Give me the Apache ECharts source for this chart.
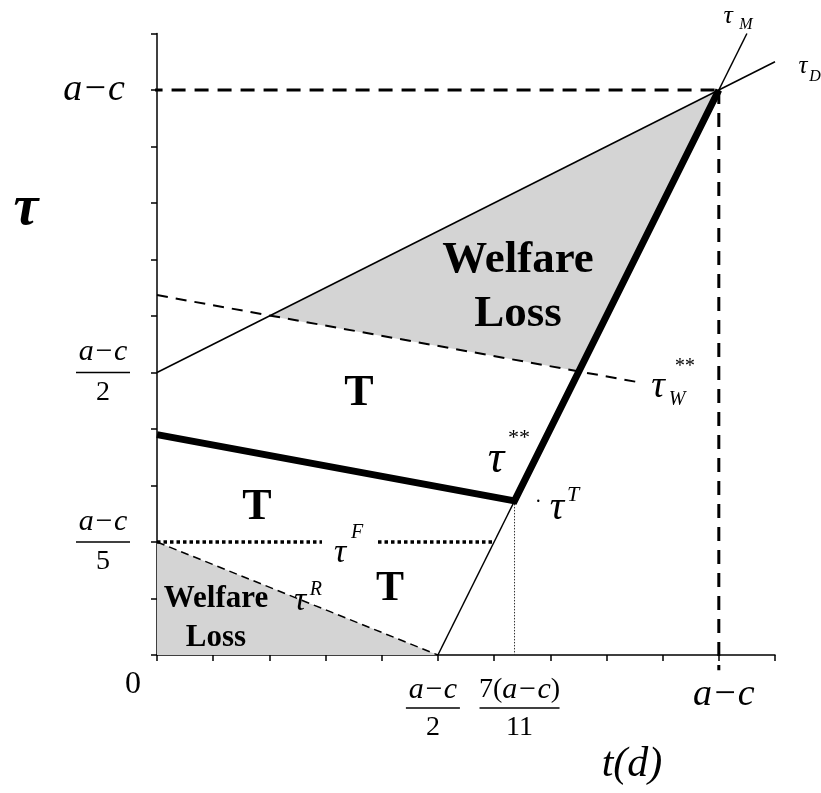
<!DOCTYPE html>
<html>
<head>
<meta charset="utf-8">
<script src="https://cdn.jsdelivr.net/npm/echarts@6/dist/echarts.min.js"></script>
<style>
  html, body { margin: 0; padding: 0; background: #fff; }
  #chart { width: 821px; height: 793px; }
</style>
</head>
<body>
<div id="chart"></div>
<script>
// Tax schedules in the (t(d), tau) plane, both axes measured in units of (a - c).
const axisMax = 1.1;
const tauD = [[0, 0.5], [1.1, 1.05]];
const tauM = [[0.5, 0], [1.05, 1.1]];
const tauW = [[0, 0.637], [0.856, 0.483]];
const tauStarStar = [[0, 0.39], [7 / 11, 3 / 11], [1, 1]];
const tauF = [[0, 0.2], [0.6, 0.2]];
const tauR = [[0, 0.2], [0.5, 0]];
const tauTDrop = [[7 / 11, 3 / 11], [7 / 11, 0]];
const guideH = [[-0.015, 1], [1, 1]];
const guideV = [[1, 1], [1, -0.027]];
const lossUpper = [[0.2015, 0.6], [1, 1], [0.751, 0.502]];
const lossLower = [[0, 0], [0, 0.2], [0.5, 0]];

// Tick labels (values on the axes)
const yTickLabels = [
  { value: 1, text: 'a−c' },
  { value: 0.5, num: 'a−c', den: '2' },
  { value: 0.2, num: 'a−c', den: '5' }
];
const xTickLabels = [
  { value: 0, text: '0' },
  { value: 0.5, num: 'a−c', den: '2' },
  { value: 7 / 11, num: '7(a−c)', den: '11' },
  { value: 1, text: 'a−c' }
];

const SERIF = '"Liberation Serif", "DejaVu Serif", serif';
const chart = echarts.init(document.getElementById('chart'), null, { renderer: 'canvas' });

function seg(name, data, lineStyle, z) {
  return {
    type: 'line', name: name, data: data, symbol: 'none', showSymbol: false,
    clip: false, silent: true, z: z || 3,
    lineStyle: Object.assign({ color: '#000' }, lineStyle)
  };
}
function poly(name, pts, color) {
  return {
    type: 'custom', name: name, data: [[0, 0]], clip: false, silent: true, z: 1,
    renderItem: function (params, api) {
      return {
        type: 'polygon',
        shape: { points: pts.map(function (p) { return api.coord(p); }) },
        style: { fill: color }
      };
    }
  };
}

const axisCommon = {
  type: 'value', min: 0, max: axisMax, interval: 0.1,
  axisLine: { onZero: false, lineStyle: { color: '#000', width: 1.5 } },
  axisTick: { length: 6, lineStyle: { color: '#000', width: 1.5 } },
  axisLabel: { show: false },
  splitLine: { show: false }
};

chart.setOption({
  animation: false,
  backgroundColor: '#fff',
  grid: { left: 157, top: 33.5, width: 618, height: 621.5 },
  xAxis: axisCommon,
  yAxis: axisCommon,
  series: [
    poly('lossUpper', lossUpper, '#d4d4d4'),
    poly('lossLower', lossLower, '#d4d4d4'),
    seg('guideH', guideH, { width: 3, type: [14, 9] }),
    seg('guideV', guideV, { width: 3, type: [14, 9] }),
    seg('tauD', tauD, { width: 1.5 }),
    seg('tauM', tauM, { width: 1.5 }),
    seg('tauW', tauW, { width: 2, type: [11, 8] }),
    seg('tauR', tauR, { width: 1.5, type: [8, 5] }),
    seg('tauF', tauF, { width: 3.5, type: [3.5, 3] }),
    seg('tauTDrop', tauTDrop, { width: 1, type: [1.5, 1.5], color: '#333' }),
    seg('tauStarStar', tauStarStar, { width: 7, join: 'miter' }, 5)
  ]
});

// Text layer placed through the axes' own coordinate conversion
const g = [];
function px(p) { return chart.convertToPixel({ gridIndex: 0 }, p); }
function txt(x, y, text, font, extra) {
  g.push({
    type: 'text', x: x, y: y, silent: true, z: 100,
    style: Object.assign({
      text: text, font: font, fill: '#000',
      textAlign: 'center', textVerticalAlign: 'middle',
      align: 'center', verticalAlign: 'middle'
    }, extra || {})
  });
}
function bar(x1, x2, y) {
  g.push({ type: 'line', z: 100, silent: true,
    shape: { x1: x1, y1: y, x2: x2, y2: y },
    style: { stroke: '#000', lineWidth: 1.5 } });
}
const it = function (s) { return 'italic ' + s + 'px ' + SERIF; };
const up = function (s) { return s + 'px ' + SERIF; };
const bd = function (s) { return 'bold ' + s + 'px ' + SERIF; };

const origin = px([0, 0]);
yTickLabels.forEach(function (d) {
  const p = px([0, d.value]);
  if (d.text) {
    txt(p[0] - 63, p[1], d.text, it(38));
  } else {
    const cx = p[0] - 54;
    bar(cx - 27, cx + 27, p[1]);
    txt(cx, p[1] - 20, d.num, it(30));
    txt(cx, p[1] + 20, d.den, up(28));
  }
});
xTickLabels.forEach(function (d) {
  const p = px([d.value, 0]);
  if (d.text === '0') {
    txt(p[0] - 24, p[1] + 30, d.text, up(32));
  } else if (d.text) {
    txt(p[0] + 5, p[1] + 40, d.text, it(38));
  } else {
    const wide = d.num.length > 3;
    const cx = p[0] + (wide ? 5 : -5);
    const hw = wide ? 40 : 27;
    bar(cx - hw, cx + hw, origin[1] + 53);
    if (wide) {
      txt(cx, origin[1] + 35, '{u|7(}{i|a−c}{u|)}', up(30), {
        rich: { u: { font: up(28) }, i: { font: it(30) } }
      });
    } else {
      txt(cx, origin[1] + 35, d.num, it(30));
    }
    txt(cx, origin[1] + 73, d.den, up(28));
  }
});

// Axis titles
txt(26, 210, 'τ', 'italic bold 56px ' + SERIF);
txt(632, 765, 't(d)', it(42));

// Region labels
[
  { at: [0.6426, 0.6513], text: 'Welfare\nLoss', size: 45, lh: 54 },
  { at: [0.105, 0.0655], text: 'Welfare\nLoss', size: 31, lh: 39 },
  { at: [0.3596, 0.4619], text: 'T', size: 44 },
  { at: [0.178, 0.260], text: 'T', size: 44 },
  { at: [0.4147, 0.1168], text: 'T', size: 42 }
].forEach(function (r) {
  const p = px(r.at);
  txt(p[0], p[1], r.text, bd(r.size), r.lh ? { lineHeight: r.lh } : {});
});

// Curve names: main glyph plus sub/superscript offsets in pixels;
// "gap" blanks the dotted line behind the label.
[
  { at: [0.6034, 0.3451], size: 46, parts: [['**', 22, -22, 22]] },
  { at: [0.712, 0.260], size: 40, parts: [['T', 16, -13, 22], ['·', -19, -5, 20]] },
  { at: [0.3257, 0.1805], size: 34, parts: [['F', 17, -20, 20]], gap: [-18, 35] },
  { at: [0.2545, 0.0956], size: 34, parts: [['R', 16, -11, 20]] },
  { at: [0.8918, 0.4743], size: 38, parts: [['W', 19, 13, 20], ['**', 26, -20, 20]] },
  { at: [1.1499, 1.0425], size: 25, parts: [['D', 12, 11, 16]] },
  { at: [1.0164, 1.131], size: 26, parts: [['M', 18, 9, 16]] }
].forEach(function (n) {
  const p = px(n.at);
  if (n.gap) {
    const lineY = px(tauF[0])[1];
    g.push({ type: 'rect', z: 90, silent: true,
      shape: { x: p[0] + n.gap[0], y: lineY - 5, width: n.gap[1] - n.gap[0], height: 10 },
      style: { fill: '#fff' } });
  }
  txt(p[0], p[1], 'τ', it(n.size));
  n.parts.forEach(function (q) {
    txt(p[0] + q[1], p[1] + q[2], q[0], it(q[3]));
  });
});

chart.setOption({ graphic: { elements: g } });
</script>
</body>
</html>
